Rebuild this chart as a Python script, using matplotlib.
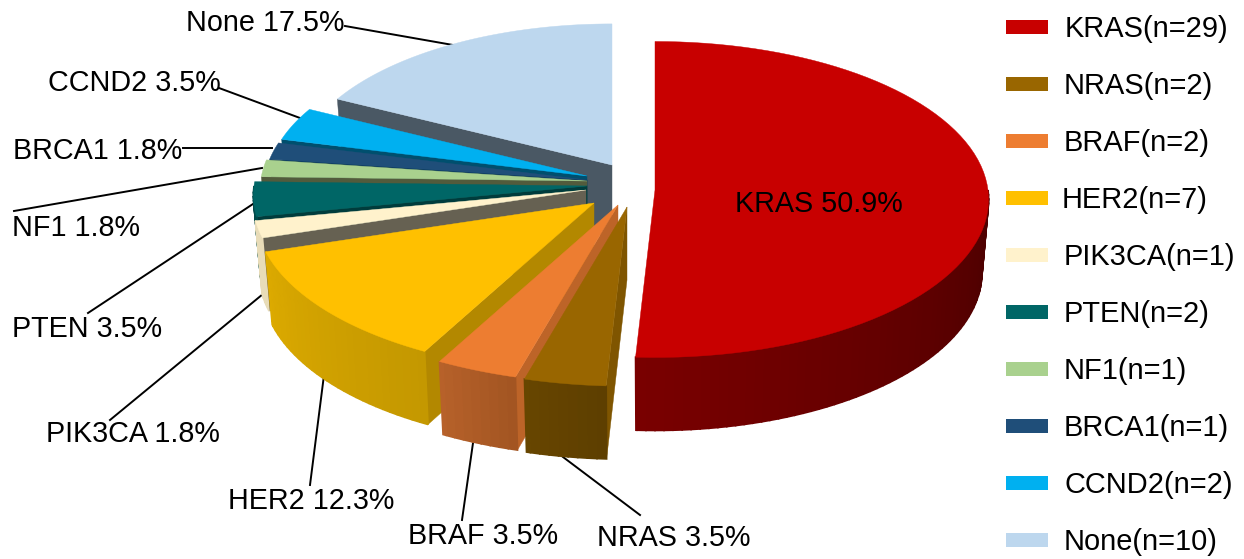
import numpy as np
import matplotlib
matplotlib.use('Agg')
import matplotlib.pyplot as plt
from matplotlib.colors import to_rgb

plt.rcParams['font.family'] = ['Liberation Sans', 'DejaVu Sans']

# Values of the chart
genes = ['KRAS', 'NRAS', 'BRAF', 'HER2', 'PIK3CA', 'PTEN', 'NF1', 'BRCA1', 'CCND2', 'None']
counts = [29, 2, 2, 7, 1, 2, 1, 1, 2, 10]
percents = ['50.9', '3.5', '3.5', '12.3', '1.8', '3.5', '1.8', '1.8', '3.5', '17.5']

# Colours: top, cut face, rim at start angle, rim at end angle
top_colors = ['#c80000', '#996600', '#ed7d31', '#ffc000', '#fff2cc',
              '#006666', '#a9d18e', '#1f4e79', '#00b0f0', '#bdd7ee']
face_colors = ['#7a0000', '#7f5500', '#bd6428', '#b38800', '#666152',
               '#003c3c', '#525b3c', '#002c4a', '#004f6e', '#4a5864']
rim_a = ['#4a0000', '#5e3f00', '#a35522', '#c49800', '#e8dcb8',
         '#004a4a', '#7a9a66', '#163a5a', '#0080b0', '#8aa0b0']
rim_b = ['#7a0000', '#684600', '#b8622a', '#dcaa00', '#e8dcb8',
         '#004a4a', '#7a9a66', '#163a5a', '#0080b0', '#8aa0b0']

# Where every slice sits once it has been pulled out of the pie (pixels)
tip_x = [655, 627, 618, 594, 586, 587, 587, 587, 587, 612]
tip_y = [190, 207, 205, 203, 190, 186, 181, 180, 176, 165]
radius = [1.0, 1.07, 1.07, 1.015, 1.0, 1.0, 0.98, 0.97, 0.96, 0.95]

RX, RY = 333, 158
DEPTH = 73
PERSP = 0.06
BOTTOM_SCALE = 0.98

# Labels: text position and the leader line
label_xy = [(735, 204), (597, 538), (408, 536), (228, 501), (46, 434),
            (12, 329), (12, 228), (13, 151), (48, 83), (186, 23)]
leader_from = [None, (640, 515), (462, 520), (310, 485), (110, 420),
               (88, 313), (14, 211), (183, 148), (219, 88), (345, 26)]
leader_to = [None, (563, 457), (473, 443), (324, 375), (263, 294),
             (256, 202), (262, 168), (272, 148), (300, 118), (453, 45)]

legend_text_x = [1065, 1064, 1064, 1062, 1064, 1064, 1064, 1064, 1064, 1064]


def project(theta, r=1.0):
    # theta in degrees, clockwise from 12 o'clock. The far side looks smaller
    t = np.radians(theta)
    sx, cy_ = np.sin(t), np.cos(t)
    s = 1 - PERSP * cy_
    return r * RX * sx * s, -r * RY * cy_ * s


fig = plt.figure(figsize=(12.44, 5.59), dpi=100)
ax = fig.add_axes([0, 0, 1, 1])
ax.set_xlim(0, 1244)
ax.set_ylim(559, 0)
ax.axis('off')

edges = np.concatenate([[0], np.cumsum(counts)]) / np.sum(counts) * 360

# Back slices first, KRAS at the very end
for i in range(len(genes) - 1, -1, -1):
    a0, a1 = edges[i], edges[i + 1]
    cx, cy, r = tip_x[i], tip_y[i], radius[i]
    z = 10 + (len(genes) - i) * 3

    # cut face at the start angle (KRAS has none showing)
    if i > 0:
        dx, dy = project(a0, r)
        ax.fill([cx, cx + dx, cx + dx * BOTTOM_SCALE, cx],
                [cy, cy + dy, cy + dy + DEPTH, cy + DEPTH],
                color=face_colors[i], lw=0.3, zorder=z)

    # rim, only the part facing the viewer, shaded in little steps
    lo, hi = max(a0, 90), min(a1, 270)
    if hi > lo:
        steps = np.arange(lo, hi, 1.5)
        steps = np.append(steps, hi)
        c0, c1 = np.array(to_rgb(rim_a[i])), np.array(to_rgb(rim_b[i]))
        for j in range(len(steps) - 1):
            d0 = project(steps[j], r)
            d1 = project(steps[j + 1], r)
            f = (steps[j] - lo) / (hi - lo)
            ax.fill([cx + d0[0], cx + d1[0], cx + d1[0] * BOTTOM_SCALE, cx + d0[0] * BOTTOM_SCALE],
                    [cy + d0[1], cy + d1[1], cy + d1[1] + DEPTH, cy + d0[1] + DEPTH],
                    color=c0 + (c1 - c0) * f, lw=1.2, zorder=z + 1)

    # top surface
    th = np.linspace(a0, a1, 80)
    dx, dy = project(th, r)
    ax.fill(np.r_[cx, cx + dx], np.r_[cy, cy + dy], color=top_colors[i], lw=0.3, zorder=z + 2)

# Labels and leader lines
for i, g in enumerate(genes):
    ax.text(label_xy[i][0], label_xy[i][1], f'{g} {percents[i]}%', fontsize=20.7,
            ha='left', va='center', color='black', zorder=60)
    if leader_from[i] is not None:
        ax.plot([leader_from[i][0], leader_to[i][0]], [leader_from[i][1], leader_to[i][1]],
                color='black', lw=1.4, zorder=9)

# Legend
for i, g in enumerate(genes):
    row_y = 27 + 57 * i
    ax.fill([1006, 1048, 1048, 1006], [row_y - 7, row_y - 7, row_y + 7, row_y + 7],
            color=top_colors[i], lw=0)
    ax.text(legend_text_x[i], row_y + 2, f'{g}(n={counts[i]})', fontsize=20.9,
            ha='left', va='center', color='black')

fig.savefig('out.png', dpi=100)
